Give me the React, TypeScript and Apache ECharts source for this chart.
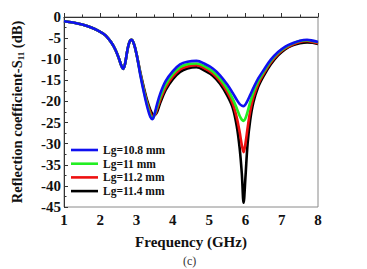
import React, { useEffect, useRef } from "react";
import * as echarts from "echarts";

const freq = [1, 1.25, 1.5, 1.75, 2.0, 2.15, 2.3, 2.42, 2.52, 2.58, 2.63, 2.68, 2.74, 2.8, 2.86, 2.92, 3.0, 3.1, 3.2, 3.3, 3.38, 3.44, 3.5, 3.56, 3.65, 3.8, 4.0, 4.2, 4.4, 4.65, 4.9, 5.1, 5.3, 5.5, 5.65, 5.76, 5.84, 5.9, 5.95, 6.0, 6.06, 6.13, 6.22, 6.35, 6.5, 6.7, 6.9, 7.1, 7.3, 7.5, 7.7, 7.85, 8.0];

const common = [-1.0, -1.3, -1.8, -2.5, -3.5, -4.4, -6.0, -7.8, -10.0, -11.5, -12.3, -11.2, -8.2, -6.0, -5.4, -6.2, -8.8];

const lg108 = [...common, -13.6, -17.8, -21.5, -23.7, -24.2, -22.8, -20.8, -18.2, -15.2, -12.8, -11.2, -10.6, -10.4, -11.2, -12.2, -13.8, -16.0, -18.0, -19.6, -20.6, -21.0, -21.1, -20.7, -19.8, -18.5, -16.8, -14.6, -12.6, -10.1, -8.3, -7.0, -6.2, -5.6, -5.4, -5.6, -5.9];
const lg11 = [...common, -13.4, -17.5, -21.0, -23.3, -24.0, -23.0, -21.4, -19.0, -16.0, -13.5, -11.9, -11.2, -11.0, -11.8, -12.9, -14.6, -17.0, -19.4, -21.6, -23.4, -24.3, -24.6, -24.0, -22.4, -20.2, -17.8, -15.2, -13.0, -10.4, -8.5, -7.2, -6.3, -5.7, -5.5, -5.7, -6.0];
const lg112 = [...common, -13.2, -17.1, -20.5, -22.6, -23.5, -23.3, -22.0, -19.7, -16.7, -14.1, -12.4, -11.7, -11.4, -12.3, -13.4, -15.2, -17.8, -20.5, -23.8, -27.2, -30.3, -32.0, -30.0, -26.3, -22.4, -19.0, -15.9, -13.5, -10.8, -8.8, -7.4, -6.5, -5.9, -5.7, -5.9, -6.2];
const lg114 = [...common, -13.0, -16.7, -20.0, -22.0, -23.0, -23.2, -22.6, -20.4, -17.3, -14.7, -13.0, -12.2, -11.9, -12.8, -13.9, -15.8, -18.6, -21.5, -25.8, -31.0, -37.0, -44.0, -38.0, -30.0, -24.5, -20.2, -16.6, -14.0, -11.2, -9.1, -7.6, -6.7, -6.2, -6.0, -6.1, -6.4];

const seriesNames = ["Lg=10.8 mm", "Lg=11 mm", "Lg=11.2 mm", "Lg=11.4 mm"];
const seriesColors = ["#1010f0", "#22ee22", "#ee1010", "#000000"];
const seriesValues = [lg108, lg11, lg112, lg114];

const xTicks = [1, 2, 3, 4, 5, 6, 7, 8];

const FONT = "'Liberation Serif', 'Times New Roman', serif";

export default function App() {
  const ref = useRef<HTMLDivElement>(null);
  useEffect(() => {
    if (!ref.current) return;
    const chart = echarts.init(ref.current, null, { renderer: "svg" });
    const series = seriesValues
      .map((vals, i) => ({
        name: seriesNames[i],
        type: "line",
        data: freq.map((f, j) => [f, vals[j]]),
        symbol: "none",
        smooth: 0.35,
        z: 10 - i,
        lineStyle: { color: seriesColors[i], width: 2.6 },
        itemStyle: { color: seriesColors[i] },
      }))
      .reverse();
    chart.setOption({
      animation: false,
      backgroundColor: "#ffffff",
      textStyle: { fontFamily: FONT },
      grid: {
        left: 64,
        right: 49,
        top: 17,
        bottom: 62,
        show: true,
        borderColor: "#8a8a8a",
        borderWidth: 1,
      },
      legend: {
        data: seriesNames,
        orient: "vertical",
        left: 71,
        top: 144,
        padding: 0,
        icon: "rect",
        itemWidth: 27,
        itemHeight: 2.6,
        itemGap: 1.7,
        textStyle: {
          fontFamily: FONT,
          fontWeight: "bold",
          fontSize: 11.5,
          color: "#111",
        },
      },
      xAxis: {
        type: "value",
        min: 1,
        max: 8,
        interval: 1,
        name: "Frequency (GHz)",
        nameLocation: "middle",
        nameGap: 27,
        nameTextStyle: { fontFamily: FONT, fontWeight: "bold", fontSize: 15, color: "#111" },
        axisLine: { lineStyle: { color: "#333", width: 1 } },
        axisTick: { inside: true, length: 4, lineStyle: { color: "#333" } },
        minorTick: { show: true, splitNumber: 2, length: 2.5, lineStyle: { color: "#333" } },
        splitLine: { show: false },
        axisLabel: {
          fontFamily: FONT,
          fontWeight: "bold",
          fontSize: 15,
          color: "#111",
          margin: 5,
          formatter: (v: number) => (xTicks.includes(v) ? String(v) : ""),
        },
      },
      yAxis: {
        type: "value",
        min: -45,
        max: 0,
        interval: 5,
        name: "{a|Reflection coefficient-S}{s|11}{a| (dB)}",
        nameLocation: "middle",
        nameGap: 39,
        nameTextStyle: {
          rich: {
            a: { fontFamily: FONT, fontWeight: "bold", fontSize: 14.5, color: "#111", lineHeight: 16 },
            s: { fontFamily: FONT, fontWeight: "bold", fontSize: 9, color: "#111", verticalAlign: "bottom", lineHeight: 16, padding: [6, 0, 0, 0] },
          },
        },
        axisLine: { show: true, lineStyle: { color: "#333", width: 1 } },
        axisTick: { show: true, inside: true, length: 4, lineStyle: { color: "#333" } },
        minorTick: { show: true, splitNumber: 2, length: 2.5, lineStyle: { color: "#333" } },
        splitLine: { show: false },
        axisLabel: {
          fontFamily: FONT,
          fontWeight: "bold",
          fontSize: 15,
          color: "#111",
          margin: 3,
        },
      },
      graphic: [
        {
          type: "text",
          left: 183,
          top: 255,
          style: { text: "(c)", font: `12px ${FONT}`, fill: "#333" },
        },
      ],
      series,
    });
    return () => chart.dispose();
  }, []);
  return (
    <div
      ref={ref}
      style={{ position: "fixed", left: 0, top: 0, width: 367, height: 269, background: "#fff" }}
    />
  );
}
